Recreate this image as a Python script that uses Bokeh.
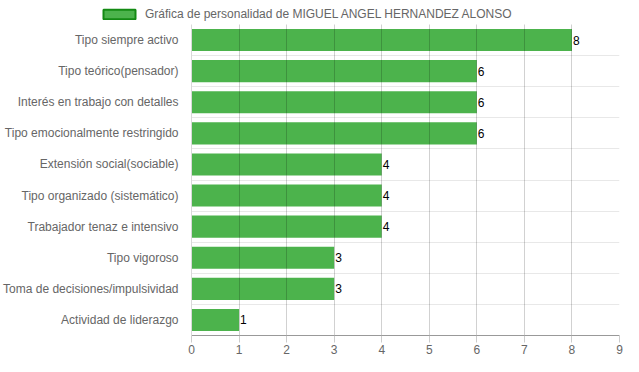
from bokeh.plotting import figure
from bokeh.layouts import column
from bokeh.models import ColumnDataSource, FixedTicker, Legend, LegendItem, Range1d, LabelSet
from bokeh.core.properties import value
from bokeh.embed import file_html
from bokeh.resources import INLINE

categories = [
    "Tipo siempre activo",
    "Tipo teórico(pensador)",
    "Interés en trabajo con detalles",
    "Tipo emocionalmente restringido",
    "Extensión social(sociable)",
    "Tipo organizado (sistemático)",
    "Trabajador tenaz e intensivo",
    "Tipo vigoroso",
    "Toma de decisiones/impulsividad",
    "Actividad de liderazgo",
]
values = [8, 6, 6, 6, 4, 4, 4, 3, 3, 1]
series_name = "Gráfica de personalidad de MIGUEL ANGEL HERNANDEZ ALONSO"
x_ticks = [0, 1, 2, 3, 4, 5, 6, 7, 8, 9]

BAR = "#4CB34C"
BAR_EDGE = "#138a13"

n = len(categories)
ypos = [n - 1 - i for i in range(n)]
src = ColumnDataSource(dict(y=ypos, v=values, lab=[str(v) for v in values], cat=categories))

# ---- legend strip on top ----
lg = figure(width=623, height=24, output_backend="svg", toolbar_location=None,
            x_range=Range1d(0, 1), y_range=Range1d(0, 1),
            x_axis_location=None, y_axis_location=None,
            min_border_left=0, min_border_right=0, min_border_top=0, min_border_bottom=0)
lg.frame_align = False
lg.outline_line_color = None
lg.xgrid.visible = False
lg.ygrid.visible = False
r2 = lg.hbar(y=[0], right=[0], left=0, height=0.0, fill_color=BAR,
             line_color=BAR_EDGE, line_width=2)
legend = Legend(items=[LegendItem(label=series_name, renderers=[r2])],
                orientation="horizontal", location=(99, 3),
                glyph_width=40, glyph_height=12, label_standoff=6,
                label_text_font="Liberation Sans", label_text_font_size="12px",
                label_text_color="#666666", border_line_color=None,
                background_fill_alpha=0,
                padding=0, margin=0, spacing=0, label_height=12)
lg.add_layout(legend)

# ---- main chart ----
p = figure(width=623, height=332, output_backend="svg", toolbar_location=None,
           x_range=Range1d(0, 9), y_range=Range1d(-0.5, n - 0.5),
           min_border_left=183, min_border_right=4, min_border_bottom=21, min_border_top=0)
p.frame_align = False
p.outline_line_color = None

p.hbar(y="y", right="v", left=0, height=0.71, source=src,
       fill_color=BAR, line_color=None)

labels = LabelSet(x="v", y="y", text="lab", source=src, x_offset=1, y_offset=0,
                  text_baseline="middle", text_font=value("Liberation Sans"),
                  text_font_size="12px", text_color="#000000")
p.add_layout(labels)

# x axis
p.xaxis.ticker = FixedTicker(ticks=x_ticks)
p.xaxis.axis_line_color = "#999999"
p.xaxis.major_tick_line_color = "#cccccc"
p.xaxis.major_tick_out = 7
p.xaxis.major_tick_in = 0
p.xaxis.minor_tick_line_color = None
p.xaxis.major_label_text_color = "#666666"
p.xaxis.major_label_text_font = "Liberation Sans"
p.xaxis.major_label_text_font_size = "12px"
p.xaxis.major_label_standoff = 2

# y axis
p.yaxis.ticker = FixedTicker(ticks=ypos)
p.yaxis.major_label_overrides = {y: c for y, c in zip(ypos, categories)}
p.yaxis.axis_line_color = "#d9d9d9"
p.yaxis.major_tick_line_color = None
p.yaxis.minor_tick_line_color = None
p.yaxis.major_label_text_color = "#666666"
p.yaxis.major_label_text_font = "Liberation Sans"
p.yaxis.major_label_text_font_size = "12px"
p.yaxis.major_label_standoff = 7

# grids
p.xgrid.ticker = FixedTicker(ticks=x_ticks)
p.xgrid.grid_line_color = "#000000"
p.xgrid.grid_line_alpha = 0.18
p.xgrid.level = "overlay"
p.ygrid.ticker = FixedTicker(ticks=[i + 0.5 for i in range(-1, n)])
p.ygrid.grid_line_color = "#e8e8e8"

layout = column(lg, p, spacing=0)
open("out.html", "w").write(file_html(layout, INLINE))
